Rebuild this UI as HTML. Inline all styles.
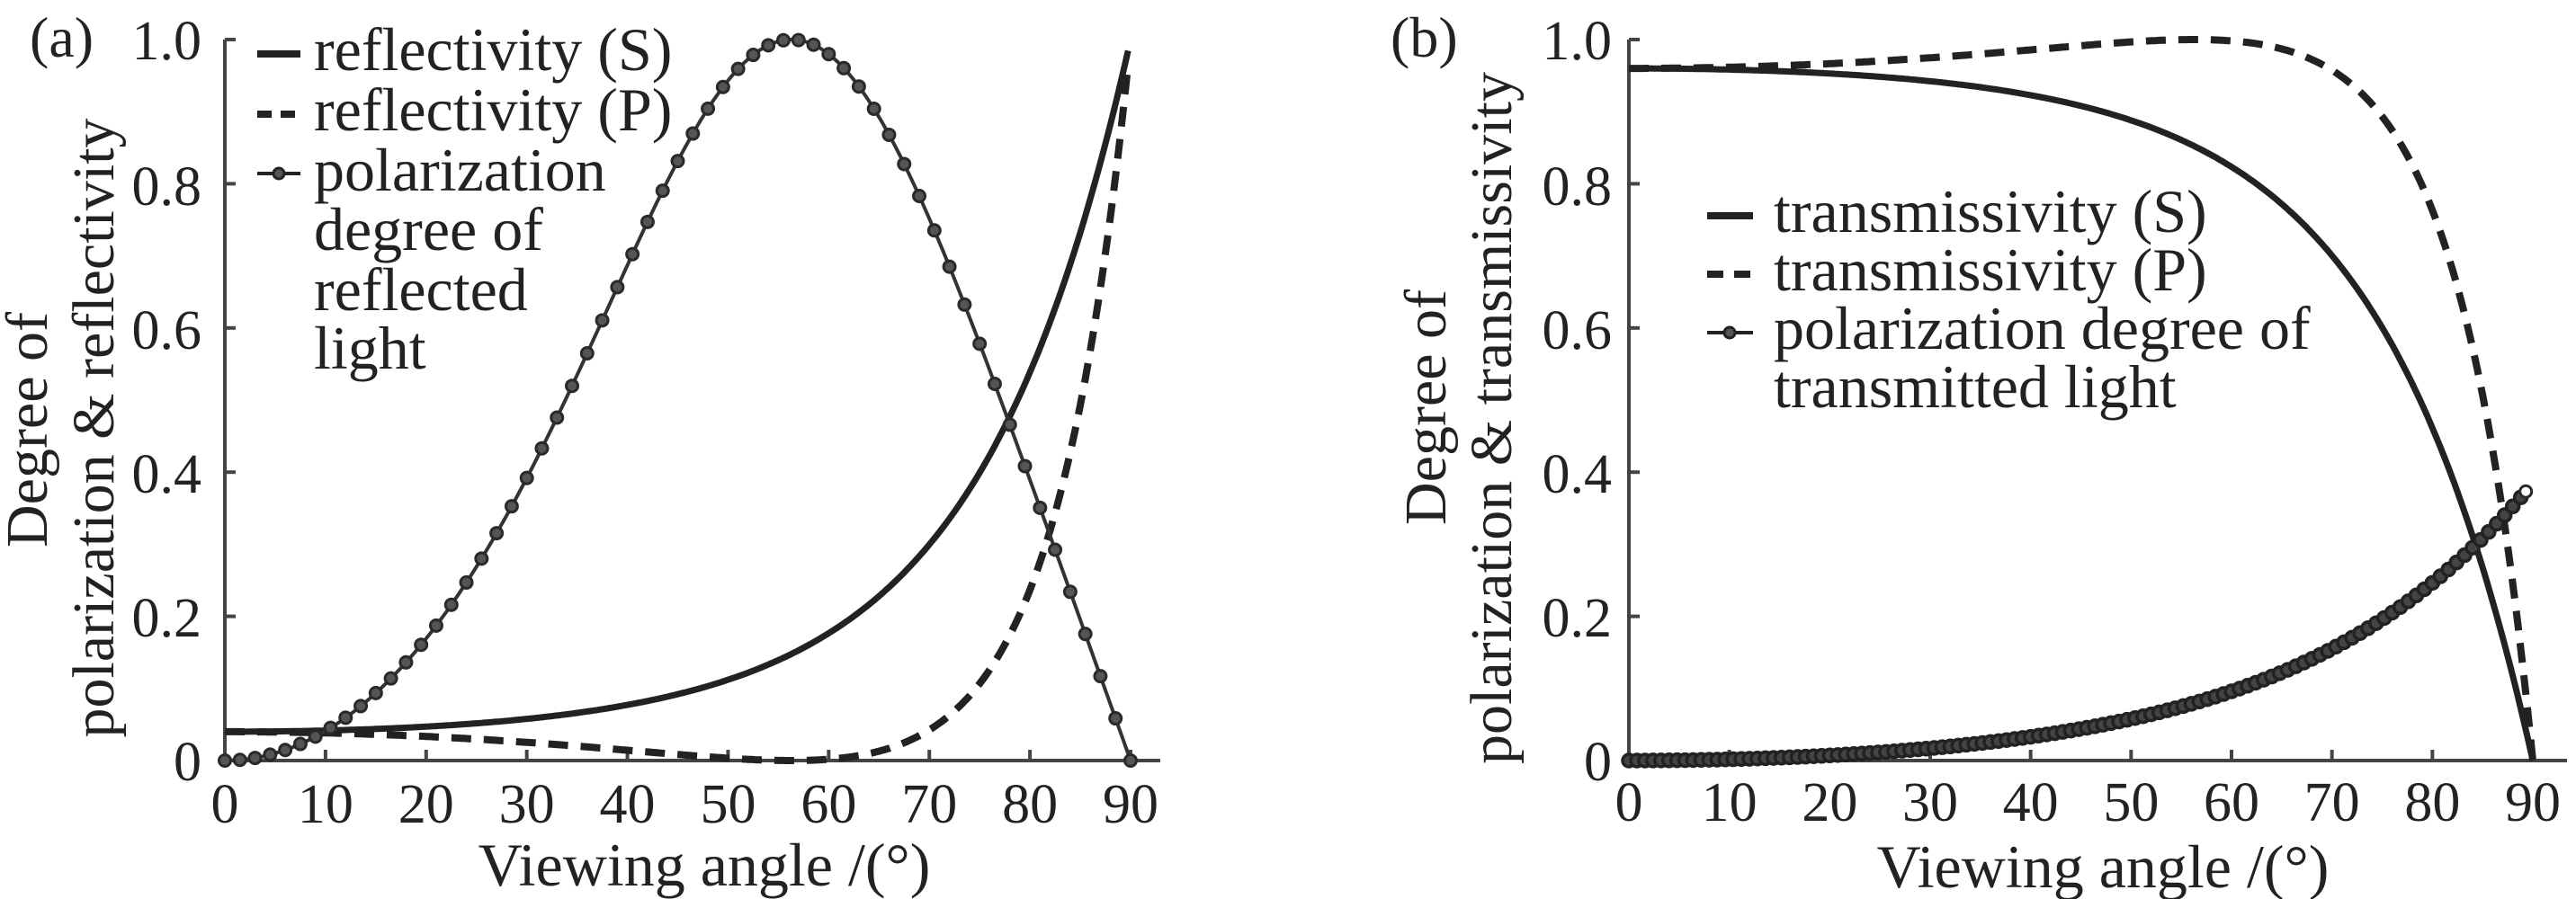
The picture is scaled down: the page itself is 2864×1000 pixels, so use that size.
<!DOCTYPE html>
<html><head><meta charset="utf-8">
<style>
html,body{margin:0;padding:0;background:#fff;}
svg{display:block;}
svg, svg text{font-family:"Liberation Serif","DejaVu Serif","Times New Roman",serif;fill:#222;}
</style></head>
<body>
<svg id="s" width="2864" height="1000" viewBox="0 0 2864 1000" xmlns="http://www.w3.org/2000/svg" font-family="Liberation Serif, DejaVu Serif, serif">
<g id="g"></g>
<text x="33" y="63" font-size="64" font-family="Liberation Serif, serif">(a)</text>
<text x="1546" y="63" font-size="64" font-family="Liberation Serif, serif">(b)</text>
<g font-size="62" text-anchor="end" font-family="Liberation Serif, serif">
<text x="224" y="868">0</text><text x="224" y="708">0.2</text><text x="224" y="548">0.4</text><text x="224" y="388">0.6</text><text x="224" y="228">0.8</text><text x="224" y="66">1.0</text>
<text x="1792" y="868">0</text><text x="1792" y="708">0.2</text><text x="1792" y="548">0.4</text><text x="1792" y="388">0.6</text><text x="1792" y="228">0.8</text><text x="1792" y="66">1.0</text>
</g>
<g font-size="68" text-anchor="middle" font-family="Liberation Serif, serif">
<text x="783" y="985">Viewing angle /(°)</text>
<text x="2338" y="987">Viewing angle /(°)</text>
</g>
<g font-size="66" text-anchor="middle" font-family="Liberation Serif, serif">
<text transform="translate(52,478) rotate(-90)">Degree of</text>
<text transform="translate(126,476) rotate(-90)">polarization &amp; reflectivity</text>
<text transform="translate(1607,453) rotate(-90)">Degree of</text>
<text transform="translate(1680,465) rotate(-90)">polarization &amp; transmissivity</text>
</g>
<g font-size="68" font-family="Liberation Serif, serif">
<text x="349" y="78">reflectivity (S)</text>
<text x="349" y="145">reflectivity (P)</text>
<text x="349" y="212">polarization</text>
<text x="349" y="278">degree of</text>
<text x="349" y="345">reflected</text>
<text x="349" y="410">light</text>
<text x="1972" y="258">transmissivity (S)</text>
<text x="1972" y="323">transmissivity (P)</text>
<text x="1972" y="388">polarization degree of</text>
<text x="1972" y="453">transmitted light</text>
</g>
<g stroke="#222" fill="none">
<line x1="286" y1="60" x2="334" y2="60" stroke-width="8"/>
<line x1="286" y1="127" x2="334" y2="127" stroke-width="8" stroke-dasharray="16,10"/>
<line x1="286" y1="193" x2="334" y2="193" stroke-width="4"/>
<circle cx="310" cy="193" r="6" stroke-width="3" fill="#555"/>
<line x1="1898" y1="240" x2="1949" y2="240" stroke-width="8"/>
<line x1="1898" y1="305" x2="1949" y2="305" stroke-width="8" stroke-dasharray="18,12"/>
<line x1="1898" y1="370" x2="1949" y2="370" stroke-width="4"/>
<circle cx="1923" cy="370" r="6" stroke-width="3" fill="#555"/>
</g>
</svg>
<script>
(function(){
var g=document.getElementById('g');var NS='http://www.w3.org/2000/svg';
function el(n,a){var e=document.createElementNS(NS,n);for(var k in a)e.setAttribute(k,a[k]);g.appendChild(e);return e;}
var n=1.5;
function F(d){var t=d*Math.PI/180;var c=Math.cos(t),s=Math.sin(t);var ct=Math.sqrt(1-s*s/(n*n));
var rs=(c-n*ct)/(c+n*ct),rp=(n*c-ct)/(n*c+ct);var Rs=rs*rs,Rp=rp*rp;return{Rs:Rs,Rp:Rp,Ts:1-Rs,Tp:1-Rp};}
function mk(x0,x90){return function(d){return x0+(x90-x0)*d/90;};}
var Y=function(v){return 846-802*v;};
var XL=mk(250,1257),XR=mk(1811,2816);
function path(X,f,a,b,st){var p='';for(var d=a;d<=b+1e-9;d+=st){p+=(p?'L':'M')+X(d).toFixed(1)+','+Y(f(d)).toFixed(1);}return p;}
el('path',{d:'M250,44 V846 H1290',stroke:'#444','stroke-width':4,fill:'none'});
el('path',{d:'M1811,44 V846 H2854',stroke:'#444','stroke-width':4,fill:'none'});
for(var i=0;i<=5;i++){var y=Y(i*0.2);el('line',{x1:250,y1:y,x2:262,y2:y,stroke:'#444','stroke-width':4});el('line',{x1:1811,y1:y,x2:1823,y2:y,stroke:'#444','stroke-width':4});}
for(var k=0;k<=9;k++){var x=XL(k*10);el('line',{x1:x,y1:846,x2:x,y2:834,stroke:'#444','stroke-width':4});
var x2=XR(k*10);el('line',{x1:x2,y1:846,x2:x2,y2:834,stroke:'#444','stroke-width':4});
var t=el('text',{x:x,y:915,'font-size':62,'text-anchor':'middle','font-family':'Liberation Serif, serif'});t.textContent=k*10;
var t2=el('text',{x:x2,y:913,'font-size':62,'text-anchor':'middle','font-family':'Liberation Serif, serif'});t2.textContent=k*10;}
el('path',{d:path(XL,function(d){return F(d).Rs;},0,89.95,0.25),stroke:'#222','stroke-width':7,fill:'none'});
el('path',{d:path(XL,function(d){return F(d).Rp;},0,89.95,0.25),stroke:'#222','stroke-width':8,fill:'none','stroke-dasharray':'22,14'});
function PR(d){if(d>=89.99)return 0;var f=F(d);return (f.Rs-f.Rp)/(f.Rs+f.Rp);}
el('path',{d:path(XL,PR,0,90,0.25),stroke:'#333','stroke-width':4,fill:'none'});
for(var d=0;d<=90.01;d+=1.5){el('circle',{cx:XL(d),cy:Y(PR(d)),r:6.5,stroke:'#2a2a2a','stroke-width':3,fill:'#555'});}
el('path',{d:path(XR,function(d){return F(d).Ts;},0,90,0.25),stroke:'#222','stroke-width':7,fill:'none'});
el('path',{d:path(XR,function(d){return F(d).Tp;},0,90,0.25),stroke:'#222','stroke-width':8,fill:'none','stroke-dasharray':'22,14'});
function PT(d){var f=F(d);return (f.Tp-f.Ts)/(f.Tp+f.Ts);}
el('path',{d:path(XR,PT,0,89.3,0.25),stroke:'#333','stroke-width':4,fill:'none'});
for(var d=0;d<=89.31;d+=0.8){el('circle',{cx:XR(d),cy:Y(PT(d)),r:7,stroke:'#222','stroke-width':3.5,fill:'#444'});}
el('circle',{cx:XR(89.3),cy:Y(PT(89.3)),r:6.5,stroke:'#2a2a2a','stroke-width':3,fill:'#fff'});
})();
</script>
</body></html>
